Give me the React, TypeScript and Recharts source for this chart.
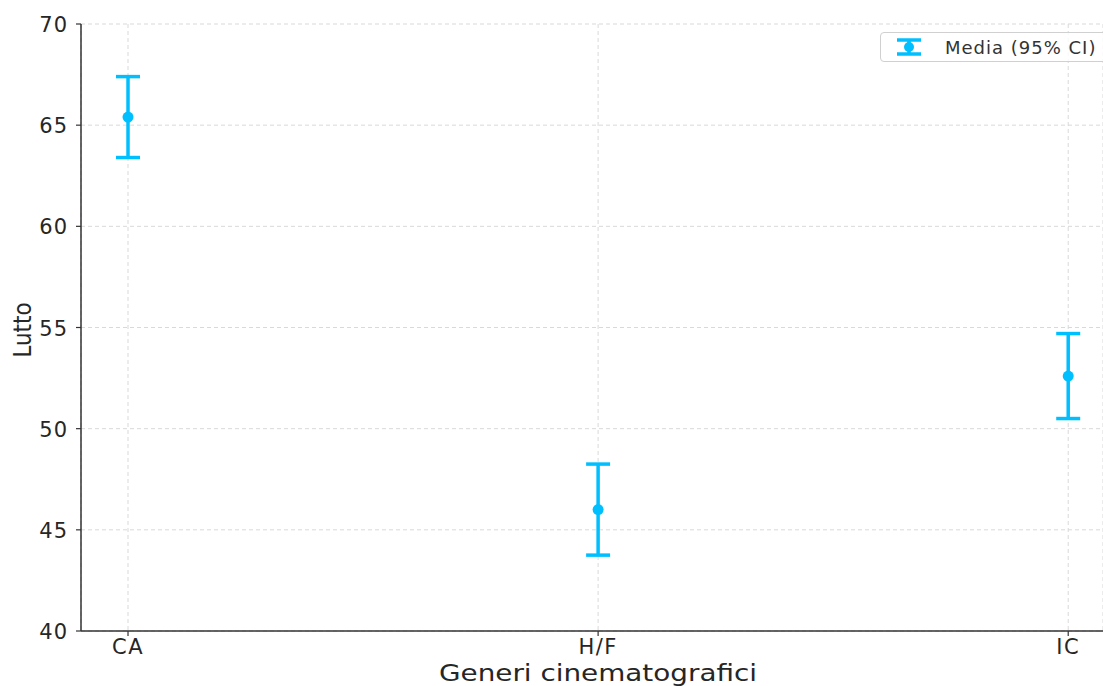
import React from 'react';
import { ScatterChart, Scatter, XAxis, YAxis, CartesianGrid, ErrorBar } from 'recharts';

const categories = ['CA', 'H/F', 'IC'];
const means = [65.4, 46.0, 52.6];
const ciLow = [2.0, 2.25, 2.1];
const ciHigh = [2.0, 2.25, 2.1];
const yTicks = [40, 45, 50, 55, 60, 65, 70];

const data = categories.map((c, i) => ({
  x: i,
  name: c,
  mean: means[i],
  ci: [ciLow[i], ciHigh[i]],
}));

const BLUE = '#00BFFF';
const TEXT = '#262626';
const FONT = 'DejaVu Sans, sans-serif';

const Dot = (props: any) => <circle cx={props.cx} cy={props.cy} r={5.5} fill={BLUE} />;

const XTick = (props: any) => {
  const { x, y, payload } = props;
  return (
    <text x={x} y={y + 16} textAnchor="middle" fontSize={21} fill={TEXT} fontFamily={FONT} letterSpacing={1.5}>
      {categories[payload.value]}
    </text>
  );
};

const YTick = (props: any) => {
  const { x, y, payload } = props;
  return (
    <text x={x - 6} y={y + 8} textAnchor="end" fontSize={21} fill={TEXT} fontFamily={FONT} letterSpacing={1}>
      {payload.value}
    </text>
  );
};

const LegendBox = () => (
  <div
    style={{
      position: 'absolute',
      left: 880,
      top: 32,
      width: 240,
      height: 28,
      border: '1px solid #d0d0d0',
      borderRadius: 4,
      background: 'rgba(255,255,255,0.8)',
      display: 'flex',
      alignItems: 'center',
      fontFamily: FONT,
      fontSize: 18,
      color: '#333',
    }}
  >
    <svg width={60} height={20}>
      <line x1={28} y1={3} x2={28} y2={17} stroke={BLUE} strokeWidth={3.5} />
      <line x1={16} y1={3} x2={40} y2={3} stroke={BLUE} strokeWidth={3.5} />
      <line x1={16} y1={17} x2={40} y2={17} stroke={BLUE} strokeWidth={3.5} />
      <circle cx={28} cy={10} r={5} fill={BLUE} />
    </svg>
    <span style={{ marginLeft: 4, letterSpacing: 1 }}>Media (95% CI)</span>
  </div>
);

export default function App() {
  return (
    <div style={{ position: 'absolute', left: 0, top: 0, width: 1103, height: 686, background: '#fff', overflow: 'hidden' }}>
      <ScatterChart width={1103} height={686} margin={{ top: 24, right: 0, bottom: 0, left: 0 }}>
        <CartesianGrid stroke="#d9d9d9" strokeDasharray="4 3" />
        <XAxis
          type="number"
          dataKey="x"
          domain={[-0.1, 2.074]}
          ticks={[0, 1, 2]}
          allowDataOverflow
          height={55}
          tick={<XTick />}
          tickSize={5}
          axisLine={{ stroke: '#333', strokeWidth: 1.5 }}
          tickLine={{ stroke: '#333', strokeWidth: 1.2 }}
        />
        <YAxis
          type="number"
          dataKey="mean"
          domain={[40, 70]}
          ticks={yTicks}
          width={81}
          tick={<YTick />}
          tickSize={5}
          axisLine={{ stroke: '#333', strokeWidth: 1.5 }}
          tickLine={{ stroke: '#333', strokeWidth: 1.2 }}
        />
        <Scatter data={data} dataKey="mean" fill={BLUE} shape={<Dot />} isAnimationActive={false}>
          <ErrorBar dataKey="ci" direction="y" width={12} strokeWidth={3.5} stroke={BLUE} />
        </Scatter>
        <text x={598} y={681} textAnchor="middle" fontSize={23} fill={TEXT} fontFamily={FONT} textLength={318} lengthAdjust="spacingAndGlyphs">
          Generi cinematografici
        </text>
        <text
          x={0}
          y={0}
          transform="translate(31,330) rotate(-90)"
          textAnchor="middle"
          fontSize={24}
          fill={TEXT}
          fontFamily={FONT}
          textLength={55}
          lengthAdjust="spacingAndGlyphs"
        >
          Lutto
        </text>
      </ScatterChart>
      <LegendBox />
    </div>
  );
}
